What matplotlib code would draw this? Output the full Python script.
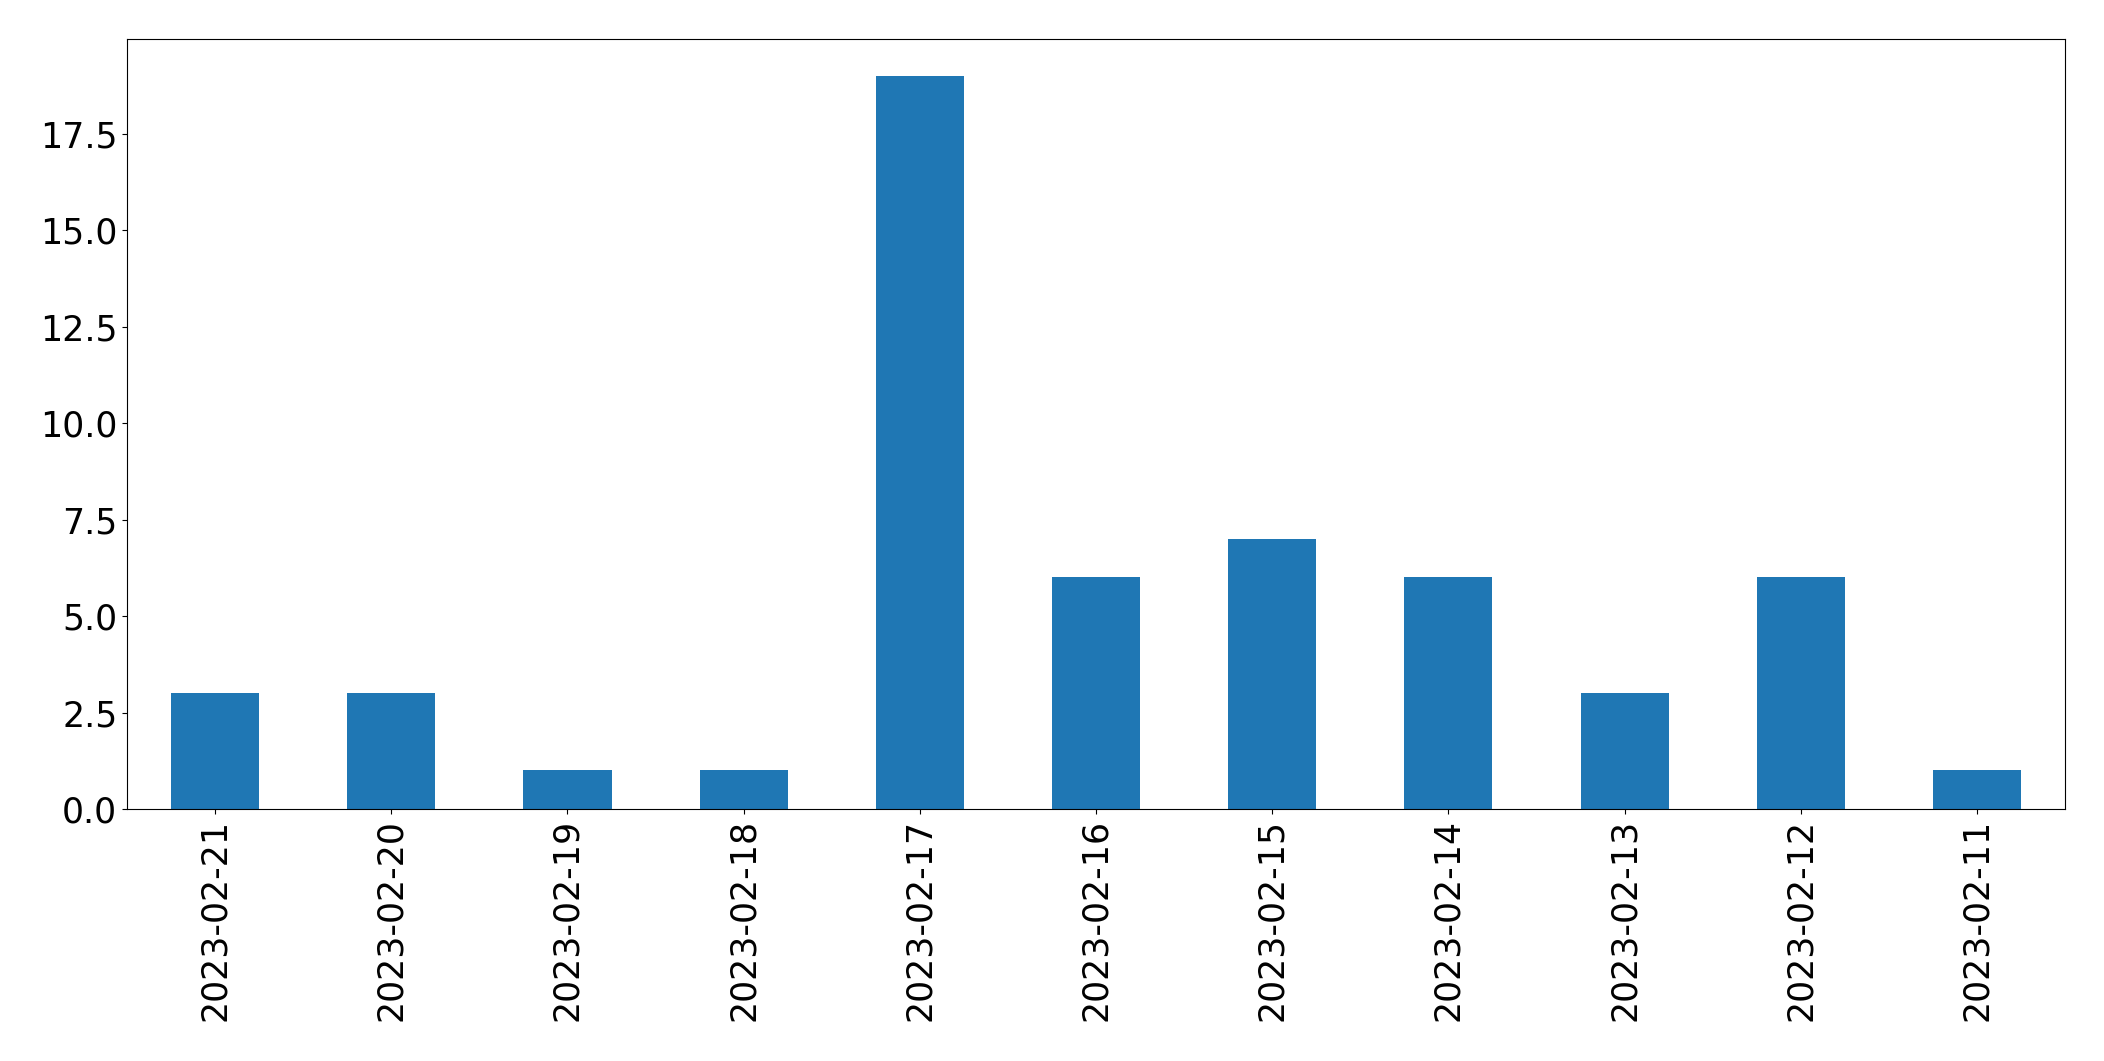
import matplotlib
matplotlib.use("Agg")
import matplotlib.pyplot as plt

dates = ["2023-02-21", "2023-02-20", "2023-02-19", "2023-02-18", "2023-02-17",
         "2023-02-16", "2023-02-15", "2023-02-14", "2023-02-13", "2023-02-12",
         "2023-02-11"]
counts = [3, 3, 1, 1, 19, 6, 7, 6, 3, 6, 1]

W, H = 2104, 1061
fig = plt.figure(figsize=(W / 100, H / 100), dpi=100)
ax = fig.add_axes([127 / W, 1 - 809 / H, (2065 - 127) / W, (809 - 39) / H])

x = list(range(len(dates)))
ax.bar(x, counts, width=0.5, color="#1f77b4")
ax.set_xlim(-0.5, len(dates) - 0.5)
ax.set_xticks(x)
ax.set_xticklabels(dates, rotation=90)
ax.tick_params(labelsize=25)

fig.savefig("out.png", dpi=100)
